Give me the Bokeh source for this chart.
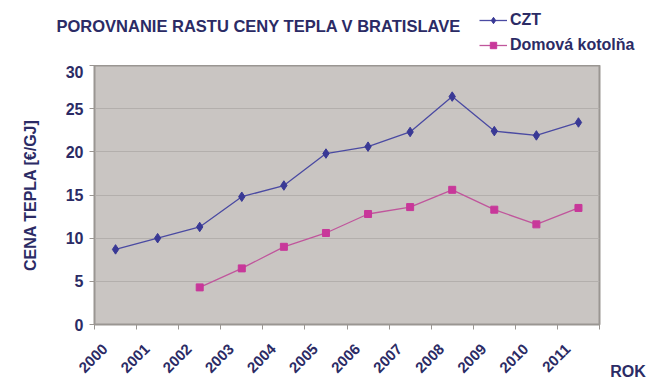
import math
from bokeh.plotting import figure
from bokeh.layouts import column, row
from bokeh.models import (FixedTicker, Label, Legend, LegendItem, ColumnDataSource)
from bokeh.embed import file_html
from bokeh.resources import INLINE

# ---- data ----
years = [2000, 2001, 2002, 2003, 2004, 2005, 2006, 2007, 2008, 2009, 2010, 2011]
czt = [8.7, 10.0, 11.3, 14.8, 16.1, 19.8, 20.6, 22.3, 26.4, 22.4, 21.9, 23.4]
domova = [float("nan"), float("nan"), 4.3, 6.5, 9.0, 10.6, 12.8, 13.6, 15.6, 13.3, 11.6, 13.5]
y_ticks = [0, 5, 10, 15, 20, 25, 30]

title_text = "POROVNANIE RASTU CENY TEPLA V BRATISLAVE"
y_title = "CENA TEPLA [€/GJ]"
x_title = "ROK"
series_names = ["CZT", "Domová kotolňa"]

NAVY = "#2b2b65"
FONT = "Liberation Sans"
CZT_LINE, CZT_MARK = "#4a4aa2", "#393995"
DOM_LINE, DOM_MARK = "#c0569c", "#c8389a"

src = ColumnDataSource(dict(x=years, czt=czt, dom=domova))

# ---------- header (title + legend) ----------
top = figure(width=650, height=65, output_backend="svg", toolbar_location=None,
             x_axis_type=None, y_axis_type=None, min_border=0,
             x_range=(0, 1), y_range=(0, 1))
top.title.visible = False
top.outline_line_color = None
top.background_fill_color = "white"
top.border_fill_color = "white"
top.grid.visible = False

# legend keys: same series, outside this header's ranges (only swatches show)
k1 = top.line("x", "czt", source=src, line_color=CZT_LINE, line_width=1.3)
k1s = top.scatter("x", "czt", source=src, marker="diamond", size=9.5,
                  fill_color=CZT_MARK, line_color=CZT_MARK)
k2 = top.line("x", "dom", source=src, line_color=DOM_LINE, line_width=1.3)
k2s = top.scatter("x", "dom", source=src, marker="square", size=7,
                  fill_color=DOM_MARK, line_color=DOM_MARK)
legend = Legend(items=[LegendItem(label=series_names[0], renderers=[k1, k1s]),
                       LegendItem(label=series_names[1], renderers=[k2, k2s])],
                location=(479, 11))
legend.padding = 0
legend.margin = 0
legend.spacing = 7
legend.glyph_width = 28
legend.glyph_height = 16
legend.label_height = 16
legend.label_standoff = 3
legend.border_line_color = None
legend.background_fill_alpha = 0
legend.label_text_font = FONT
legend.label_text_font_style = "bold"
legend.label_text_font_size = "16px"
legend.label_text_color = NAVY
top.add_layout(legend)

top.add_layout(Label(x=56, y=40, x_units="screen", y_units="screen", text=title_text,
                     text_font=FONT, text_font_style="bold", text_font_size="16.5px",
                     text_color=NAVY, text_baseline="alphabetic"))

# ---------- main chart ----------
p = figure(width=601, height=320, output_backend="svg", toolbar_location=None,
           x_range=(years[0] - 0.5, years[-1] + 0.5), y_range=(y_ticks[0], y_ticks[-1]),
           min_border_left=94, min_border_right=2, min_border_top=0, min_border_bottom=61)
p.title.visible = False
p.background_fill_color = "#c9c5c2"
p.border_fill_color = "white"
p.outline_line_color = "#9a9692"
p.outline_line_width = 2

# year labels sit a little left of each category centre, as in the original
label_pos = [y - 0.25 for y in years]
boundaries = [y - 0.5 for y in years] + [years[-1] + 0.5]
p.xaxis.ticker = FixedTicker(ticks=label_pos, minor_ticks=boundaries)
p.xaxis.major_label_overrides = {pos: str(y) for pos, y in zip(label_pos, years)}
p.xaxis.major_label_orientation = math.pi / 4
p.xaxis.major_tick_line_color = None
p.xaxis.minor_tick_line_color = "#9a9692"
p.xaxis.minor_tick_out = 5
p.xaxis.minor_tick_in = 0
p.xaxis.major_label_standoff = 16
p.xaxis.axis_line_color = "#9a9692"
p.xaxis.major_label_text_font_size = "15px"
p.yaxis.ticker = FixedTicker(ticks=y_ticks)
p.yaxis.major_tick_out = 5
p.yaxis.major_tick_in = 0
p.yaxis.minor_tick_line_color = None
p.yaxis.major_tick_line_color = "#9a9692"
p.yaxis.axis_line_color = "#9a9692"
p.yaxis.major_label_standoff = 6
p.yaxis.major_label_text_font_size = "16px"
for ax in (p.xaxis, p.yaxis):
    ax.major_label_text_font = FONT
    ax.major_label_text_font_style = "bold"
    ax.major_label_text_color = NAVY

p.yaxis.axis_label = y_title
p.yaxis.axis_label_standoff = 24
p.yaxis.axis_label_text_font = FONT
p.yaxis.axis_label_text_font_style = "bold"
p.yaxis.axis_label_text_font_size = "16px"
p.yaxis.axis_label_text_color = NAVY

p.xgrid.grid_line_color = None
p.ygrid.grid_line_color = "#b3afac"
p.ygrid.grid_line_width = 1

p.line("x", "czt", source=src, line_color=CZT_LINE, line_width=1.3)
p.scatter("x", "czt", source=src, marker="diamond", size=9.5,
          fill_color=CZT_MARK, line_color=CZT_MARK)
p.line("x", "dom", source=src, line_color=DOM_LINE, line_width=1.3)
p.scatter("x", "dom", source=src, marker="square", size=7,
          fill_color=DOM_MARK, line_color=DOM_MARK)

# ---------- right strip carrying the x-axis title "ROK" ----------
side = figure(width=49, height=320, output_backend="svg", toolbar_location=None,
              y_axis_type=None, min_border=0, min_border_left=4,
              x_range=(0, 1), y_range=(0, 1))
side.title.visible = False
side.outline_line_color = None
side.background_fill_color = "white"
side.border_fill_color = "white"
side.grid.visible = False
side.xaxis.ticker = FixedTicker(ticks=[])
side.xaxis.major_tick_line_color = None
side.xaxis.minor_tick_line_color = None
side.xaxis.axis_line_color = None
side.xaxis.major_label_text_alpha = 0
side.xaxis.axis_label = x_title
side.xaxis.axis_label_standoff = 38
side.xaxis.axis_label_text_font = FONT
side.xaxis.axis_label_text_font_style = "bold"
side.xaxis.axis_label_text_font_size = "16px"
side.xaxis.axis_label_text_color = NAVY

layout = column(top, row(p, side, spacing=0), spacing=0)
open("out.html", "w").write(file_html(layout, INLINE))
